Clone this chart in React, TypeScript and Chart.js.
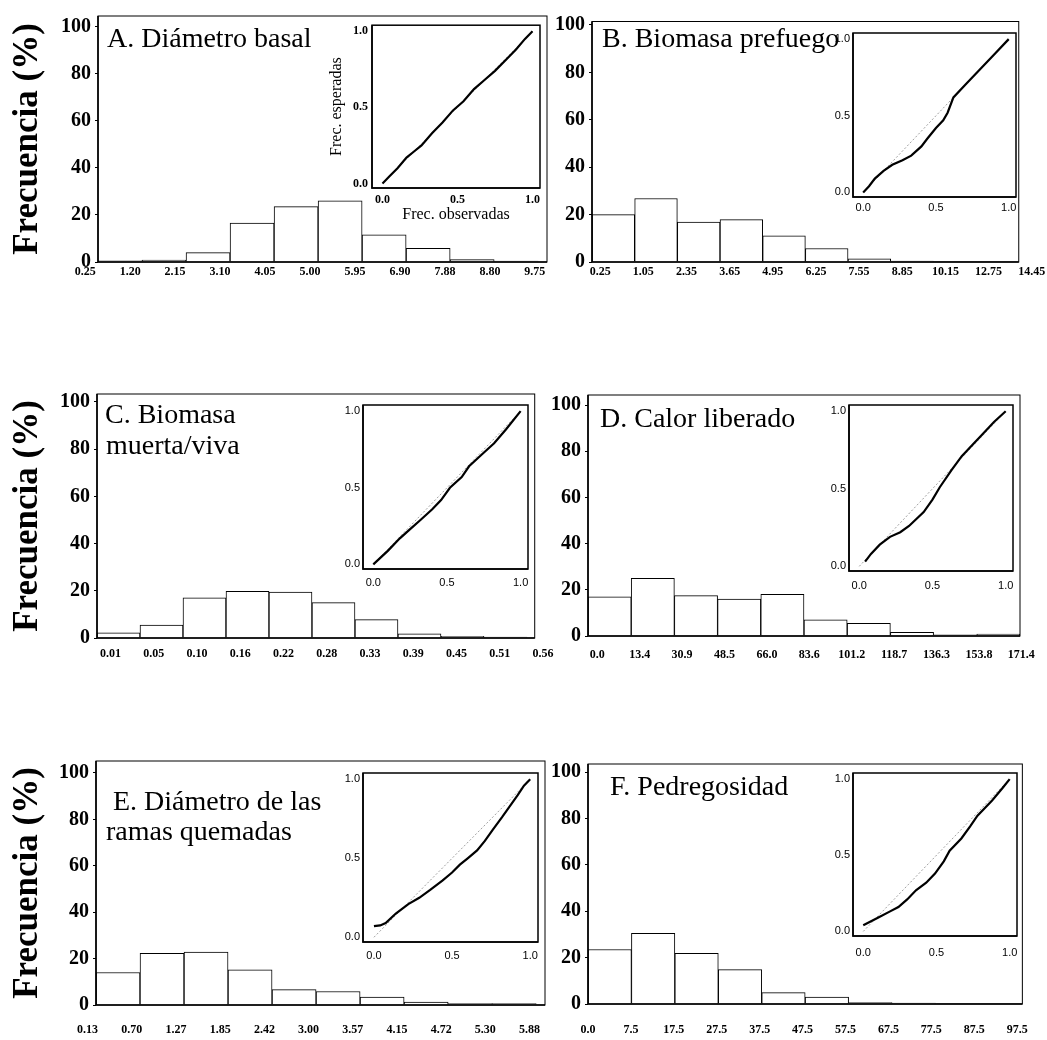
import React, { useEffect, useRef } from "react";
import { Chart, registerables } from "chart.js";

Chart.register(...registerables);

const SERIF = '"Liberation Serif", "Times New Roman", serif';
const SANS = '"Liberation Sans", Arial, sans-serif';

// ---------------- data ----------------
const labelsA = ["0.25", "1.20", "2.15", "3.10", "4.05", "5.00", "5.95", "6.90", "7.88", "8.80", "9.75"];
const freqA = [0.5, 0.8, 4, 16.5, 23.5, 26, 11.5, 5.8, 1, 0.4];

const labelsB = ["0.25", "1.05", "2.35", "3.65", "4.95", "6.25", "7.55", "8.85", "10.15", "12.75", "14.45"];
const freqB = [20, 26.8, 16.8, 17.9, 11, 5.7, 1.3, 0.4, 0.3, 0.3];

const labelsC = ["0.01", "0.05", "0.10", "0.16", "0.22", "0.28", "0.33", "0.39", "0.45", "0.51", "0.56"];
const freqC = [2.2, 5.5, 17, 19.8, 19.5, 15, 7.8, 1.8, 0.7, 0.4];

const labelsD = ["0.0", "13.4", "30.9", "48.5", "66.0", "83.6", "101.2", "118.7", "136.3", "153.8", "171.4"];
const freqD = [17, 25, 17.5, 16, 18, 7, 5.5, 1.6, 0.5, 0.8];

const labelsE = ["0.13", "0.70", "1.27", "1.85", "2.42", "3.00", "3.57", "4.15", "4.72", "5.30", "5.88"];
const freqE = [14, 22.3, 22.8, 15.2, 6.6, 5.8, 3.4, 1.3, 0.6, 0.6];

const labelsF = ["0.0", "7.5", "17.5", "27.5", "37.5", "47.5", "57.5", "67.5", "77.5", "87.5", "97.5"];
const freqF = [23.5, 30.5, 21.8, 14.8, 4.9, 3, 0.6, 0.4, 0.3, 0.3];

const yTicks = [0, 20, 40, 60, 80, 100];
const ppTicks = [0, 0.5, 1];

// P-P plots: observed (x) vs expected (y) cumulative frequencies
const ppObsA = [0, 0.05, 0.1, 0.16, 0.21, 0.26, 0.33, 0.4, 0.47, 0.54, 0.61, 0.68, 0.75, 0.82, 0.89, 0.95, 1];
const ppExpA = [0, 0.05, 0.1, 0.17, 0.21, 0.25, 0.33, 0.4, 0.48, 0.54, 0.62, 0.68, 0.74, 0.81, 0.88, 0.95, 1];

const ppObsB = [0, 0.04, 0.08, 0.14, 0.2, 0.27, 0.33, 0.4, 0.44, 0.5, 0.55, 0.58, 0.62, 0.7, 0.8, 0.9, 1];
const ppExpB = [0, 0.04, 0.09, 0.14, 0.18, 0.21, 0.24, 0.3, 0.35, 0.42, 0.47, 0.52, 0.62, 0.7, 0.8, 0.9, 1];

const ppObsC = [0, 0.1, 0.18, 0.25, 0.32, 0.4, 0.46, 0.52, 0.6, 0.65, 0.74, 0.82, 0.9, 1];
const ppExpC = [0, 0.09, 0.17, 0.23, 0.29, 0.36, 0.42, 0.5, 0.57, 0.64, 0.72, 0.79, 0.88, 1];

const ppObsD = [0.04, 0.08, 0.14, 0.21, 0.28, 0.34, 0.44, 0.5, 0.55, 0.63, 0.7, 0.78, 0.84, 0.92, 1];
const ppExpD = [0.03, 0.08, 0.14, 0.19, 0.22, 0.26, 0.35, 0.43, 0.51, 0.62, 0.71, 0.79, 0.85, 0.93, 1];

const ppObsE = [0, 0.04, 0.075, 0.14, 0.22, 0.29, 0.36, 0.44, 0.5, 0.55, 0.6, 0.66, 0.71, 0.76, 0.82, 0.87, 0.92, 0.96, 1];
const ppExpE = [0.07, 0.075, 0.09, 0.15, 0.21, 0.25, 0.3, 0.36, 0.41, 0.46, 0.5, 0.55, 0.61, 0.68, 0.76, 0.83, 0.9, 0.96, 1];

const ppObsF = [0, 0.1, 0.18, 0.24, 0.3, 0.36, 0.43, 0.49, 0.55, 0.59, 0.67, 0.73, 0.78, 0.88, 0.95, 1];
const ppExpF = [0.04, 0.09, 0.13, 0.16, 0.21, 0.27, 0.32, 0.38, 0.46, 0.53, 0.61, 0.69, 0.76, 0.86, 0.94, 1];

const diagObs = [0, 1];
const diagExp = [0, 1];

// ---------------- layout ----------------
type Box = { L: number; R: number; T: number; B: number };
type Canvas = { left: number; top: number; width: number; height: number };

type HistSpec = {
  canvas: Canvas;
  area: Box;
  y100: number;
  xMax: number;
  labMin: number;
  labMax: number;
  labPad: number;
  labels: string[];
  values: number[];
  title: { text: string; x: number; y: number }[];
  yTitle: boolean;
};

const hists: HistSpec[] = [
  {
    canvas: { left: 0, top: 0, width: 560, height: 292 },
    area: { L: 98, R: 547, T: 14, B: 262 }, y100: 24.5, xMax: 10.2,
    labMin: 0.285, labMax: 10.27, labPad: 2.5, labels: labelsA, values: freqA,
    title: [{ text: "A. Diámetro basal", x: 107, y: 47 }], yTitle: true,
  },
  {
    canvas: { left: 552, top: 0, width: 495, height: 292 },
    area: { L: 592, R: 1024, T: 21.5, B: 262 }, y100: 25, xMax: 10,
    labMin: -0.19, labMax: 9.7, labPad: 2.5, labels: labelsB, values: freqB,
    title: [{ text: "B. Biomasa prefuego", x: 602, y: 47 }], yTitle: false,
  },
  {
    canvas: { left: 0, top: 378, width: 562, height: 292 },
    area: { L: 97, R: 539, T: 393, B: 638 }, y100: 401, xMax: 10.18,
    labMin: -0.31, labMax: 9.81, labPad: 9, labels: labelsC, values: freqC,
    title: [{ text: "C. Biomasa", x: 105, y: 423 }, { text: "muerta/viva", x: 106, y: 454 }], yTitle: true,
  },
  {
    canvas: { left: 552, top: 378, width: 495, height: 292 },
    area: { L: 588, R: 1020, T: 395, B: 636 }, y100: 405, xMax: 10,
    labMin: -0.22, labMax: 9.97, labPad: 11.5, labels: labelsD, values: freqD,
    title: [{ text: "D. Calor liberado", x: 600, y: 427 }], yTitle: false,
  },
  {
    canvas: { left: 0, top: 745, width: 562, height: 295 },
    area: { L: 96, R: 545, T: 760, B: 1005 }, y100: 772, xMax: 10.2,
    labMin: 0.19, labMax: 10.35, labPad: 18, labels: labelsE, values: freqE,
    title: [{ text: "E. Diámetro de las", x: 113, y: 810 }, { text: "ramas quemadas", x: 106, y: 840 }], yTitle: true,
  },
  {
    canvas: { left: 552, top: 745, width: 495, height: 295 },
    area: { L: 588, R: 1023, T: 764, B: 1004 }, y100: 772, xMax: 10,
    labMin: 0, labMax: 10.12, labPad: 19, labels: labelsF, values: freqF,
    title: [{ text: "F. Pedregosidad", x: 610, y: 795 }], yTitle: false,
  },
];

type InsetSpec = {
  area: Box;
  obs: number[];
  exp: number[];
  titles: boolean;
  xPad: number;
  yPad: number;
};

const insets: InsetSpec[] = [
  { area: { L: 372, R: 540, T: 24, B: 188 }, obs: ppObsA, exp: ppExpA, titles: true, xPad: 5, yPad: 4 },
  { area: { L: 853, R: 1016, T: 33, B: 197 }, obs: ppObsB, exp: ppExpB, titles: false, xPad: 4.5, yPad: 3 },
  { area: { L: 363, R: 528, T: 405, B: 569 }, obs: ppObsC, exp: ppExpC, titles: false, xPad: 7, yPad: 3 },
  { area: { L: 849, R: 1013, T: 405, B: 571 }, obs: ppObsD, exp: ppExpD, titles: false, xPad: 8, yPad: 3 },
  { area: { L: 363, R: 538, T: 773, B: 942 }, obs: ppObsE, exp: ppExpE, titles: false, xPad: 7, yPad: 3 },
  { area: { L: 853, R: 1017, T: 773, B: 936 }, obs: ppObsF, exp: ppExpF, titles: false, xPad: 10, yPad: 3 },
];

// ---------------- plugins ----------------
function framePlugin(heavy: number, light: number) {
  return {
    id: "frame",
    afterDraw(chart: any) {
      const { ctx, chartArea: a } = chart;
      ctx.save();
      ctx.strokeStyle = "#000";
      ctx.lineWidth = light;
      ctx.strokeRect(a.left, a.top, a.right - a.left, a.bottom - a.top);
      ctx.lineWidth = heavy;
      ctx.beginPath();
      ctx.moveTo(a.left, a.top);
      ctx.lineTo(a.left, a.bottom);
      ctx.lineTo(a.right, a.bottom);
      ctx.stroke();
      ctx.restore();
    },
  };
}

function titlePlugin(lines: { text: string; x: number; y: number }[], c: Canvas) {
  return {
    id: "panelTitle",
    afterDraw(chart: any) {
      const ctx = chart.ctx;
      ctx.save();
      ctx.fillStyle = "#000";
      ctx.font = `28px ${SERIF}`;
      ctx.textBaseline = "alphabetic";
      ctx.textAlign = "left";
      lines.forEach((l) => ctx.fillText(l.text, l.x - c.left, l.y - c.top));
      ctx.restore();
    },
  };
}

// ---------------- components ----------------
function HistPanel({ spec }: { spec: HistSpec }) {
  const ref = useRef<HTMLCanvasElement>(null);
  const c = spec.canvas;
  useEffect(() => {
    const a = spec.area;
    const yW = a.L - c.left;
    const padTop = a.T - c.top;
    const padRight = c.left + c.width - a.R;
    const xH = c.top + c.height - a.B;
    const yMax = (100 * (a.B - a.T)) / (a.B - spec.y100);
    const chart = new Chart(ref.current as HTMLCanvasElement, {
      type: "bar",
      data: {
        datasets: [
          {
            data: spec.values.map((v, i) => ({ x: i + 0.5, y: v })),
            xAxisID: "x",
            yAxisID: "y",
            backgroundColor: "#ffffff",
            borderColor: "#000000",
            borderWidth: 1,
            barPercentage: 1,
            categoryPercentage: 1,
          } as any,
        ],
      },
      options: {
        animation: false,
        responsive: false,
        maintainAspectRatio: false,
        events: [],
        layout: { padding: { left: 0, top: padTop, right: padRight, bottom: 0 } },
        plugins: { legend: { display: false }, tooltip: { enabled: false }, title: { display: false } },
        scales: {
          x: {
            type: "linear",
            display: false,
            min: 0,
            max: spec.xMax,
            offset: false,
            afterBuildTicks: (s: any) => {
              s.ticks = spec.labels.map((_, i) => ({ value: i }));
            },
          },
          xl: {
            type: "linear",
            position: "bottom",
            min: spec.labMin,
            max: spec.labMax,
            offset: false,
            grid: { display: false, drawTicks: false, tickLength: 0 },
            border: { display: false },
            afterBuildTicks: (s: any) => {
              s.ticks = spec.labels.map((_, i) => ({ value: i }));
            },
            afterFit: (s: any) => {
              s.height = xH;
            },
            ticks: {
              autoSkip: false,
              maxRotation: 0,
              minRotation: 0,
              padding: spec.labPad,
              color: "#000",
              font: { family: SERIF, size: 12, weight: "bold" },
              callback: (_v: any, i: number) => spec.labels[i],
            },
          },
          y: {
            type: "linear",
            position: "left",
            min: 0,
            max: yMax,
            afterBuildTicks: (s: any) => {
              s.ticks = yTicks.map((v) => ({ value: v }));
            },
            afterFit: (s: any) => {
              s.width = yW;
            },
            grid: { display: true, drawOnChartArea: false, drawTicks: true, tickLength: 3, color: "#000", lineWidth: 1 },
            border: { display: false },
            ticks: {
              padding: 4,
              color: "#000",
              font: { family: SERIF, size: 20, weight: "bold" },
              callback: (v: any) => String(v),
            },
            title: {
              display: spec.yTitle,
              text: "Frecuencia (%)",
              color: "#000",
              font: { family: SERIF, size: 35, weight: "bold", lineHeight: 1 },
              padding: { top: 10.5, bottom: 0 },
            },
          },
        },
      } as any,
      plugins: [framePlugin(1.6, 1), titlePlugin(spec.title, c)],
    });
    return () => chart.destroy();
  }, []);
  return (
    <canvas
      ref={ref}
      width={c.width}
      height={c.height}
      style={{ position: "absolute", left: c.left, top: c.top, width: c.width, height: c.height }}
    />
  );
}

function InsetPanel({ spec }: { spec: InsetSpec }) {
  const ref = useRef<HTMLCanvasElement>(null);
  const a = spec.area;
  const c: Canvas = {
    left: a.L - (spec.titles ? 54 : 40),
    top: a.T - 10,
    width: a.R + 14 - (a.L - (spec.titles ? 54 : 40)),
    height: a.B + (spec.titles ? 44 : 28) - (a.T - 10),
  };
  useEffect(() => {
    const yW = a.L - c.left;
    const padTop = a.T - c.top;
    const padRight = c.left + c.width - a.R;
    const xH = c.top + c.height - a.B;
    const tickFont = spec.titles
      ? { family: SERIF, size: 12, weight: "bold" }
      : { family: SANS, size: 11 };
    const chart = new Chart(ref.current as HTMLCanvasElement, {
      type: "scatter",
      data: {
        datasets: [
          {
            data: spec.obs.map((x, i) => ({ x, y: spec.exp[i] })),
            showLine: true,
            borderColor: "#000",
            borderWidth: 2.2,
            pointRadius: 0,
            tension: 0,
            fill: false,
          },
          {
            data: diagObs.map((x, i) => ({ x, y: diagExp[i] })),
            showLine: true,
            borderColor: "#888",
            borderWidth: 0.8,
            borderDash: [2, 2],
            pointRadius: 0,
            fill: false,
          },
        ],
      } as any,
      options: {
        animation: false,
        responsive: false,
        maintainAspectRatio: false,
        events: [],
        layout: { padding: { left: 0, top: padTop, right: padRight, bottom: 0 } },
        plugins: { legend: { display: false }, tooltip: { enabled: false } },
        scales: {
          x: {
            type: "linear",
            min: -0.07,
            max: 1.05,
            grid: { display: false, drawTicks: false, tickLength: 0 },
            border: { display: false },
            afterBuildTicks: (s: any) => {
              s.ticks = ppTicks.map((v) => ({ value: v }));
            },
            afterFit: (s: any) => {
              s.height = xH;
            },
            ticks: {
              autoSkip: false,
              maxRotation: 0,
              padding: spec.xPad,
              color: "#000",
              font: tickFont,
              callback: (v: any) => Number(v).toFixed(1),
            },
            title: {
              display: spec.titles,
              text: "Frec. observadas",
              color: "#000",
              font: { family: SERIF, size: 16, lineHeight: 1 },
              padding: { top: 0, bottom: 9 },
            },
          },
          y: {
            type: "linear",
            min: -0.03,
            max: 1.04,
            grid: { display: false, drawTicks: false, tickLength: 0 },
            border: { display: false },
            afterBuildTicks: (s: any) => {
              s.ticks = ppTicks.map((v) => ({ value: v }));
            },
            afterFit: (s: any) => {
              s.width = yW;
            },
            ticks: {
              padding: spec.yPad,
              color: "#000",
              font: tickFont,
              callback: (v: any) => Number(v).toFixed(1),
            },
            title: {
              display: spec.titles,
              text: "Frec. esperadas",
              color: "#000",
              font: { family: SERIF, size: 16, lineHeight: 1 },
              padding: { top: 11, bottom: 0 },
            },
          },
        },
      } as any,
      plugins: [framePlugin(1.5, 1.5)],
    });
    return () => chart.destroy();
  }, []);
  return (
    <canvas
      ref={ref}
      width={c.width}
      height={c.height}
      style={{ position: "absolute", left: c.left, top: c.top, width: c.width, height: c.height }}
    />
  );
}

export default function App() {
  return (
    <div
      style={{
        position: "absolute",
        left: 0,
        top: 0,
        width: 1047,
        height: 1040,
        background: "#fff",
        overflow: "hidden",
      }}
    >
      {hists.map((h, i) => (
        <HistPanel key={"h" + i} spec={h} />
      ))}
      {insets.map((s, i) => (
        <InsetPanel key={"i" + i} spec={s} />
      ))}
    </div>
  );
}
